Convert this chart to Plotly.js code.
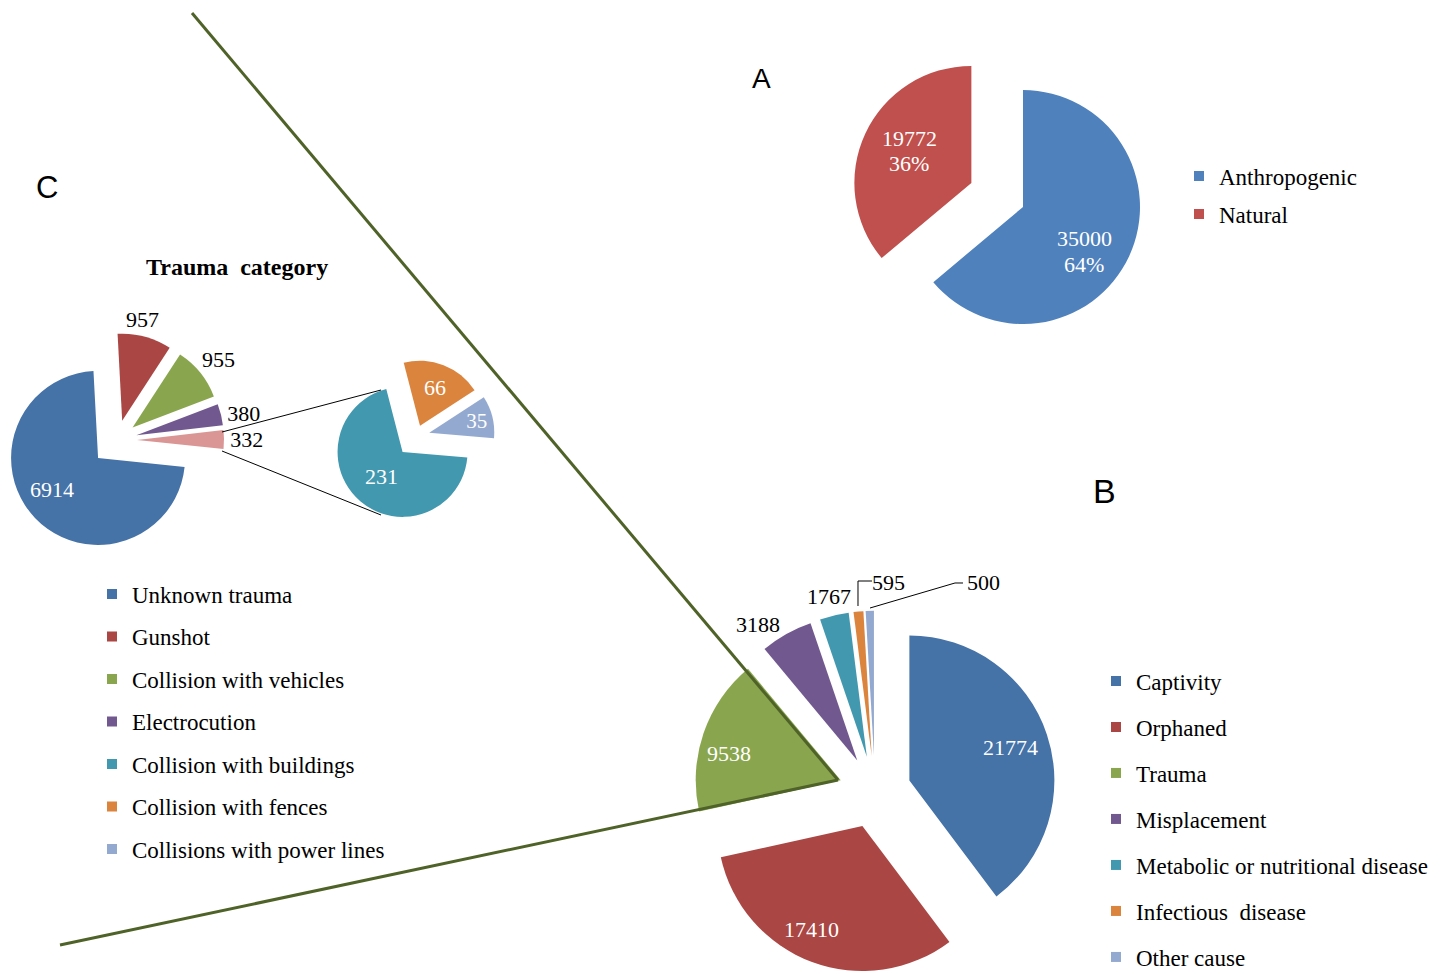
<!DOCTYPE html>
<html>
<head>
<meta charset="utf-8">
<script src="https://cdn.plot.ly/plotly-3.0.1.min.js"></script>
<style>
html, body { margin: 0; padding: 0; background: #ffffff; overflow: hidden; }
#chart { width: 1445px; height: 974px; }
</style>
</head>
<body>
<div id="chart"></div>
<script>
// ---------- DATA ----------
// A: origin of admissions
const originLabels = ['Anthropogenic', 'Natural'];
const originValues = [35000, 19772];
const originColors = ['#4F81BD', '#C0504D'];

// B: causes of admission
const causeLabels = ['Captivity', 'Orphaned', 'Trauma', 'Misplacement',
  'Metabolic or nutritional disease', 'Infectious  disease', 'Other cause'];
const causeValues = [21774, 17410, 9538, 3188, 1767, 595, 500];
const causeColors = ['#4572A7', '#AA4643', '#89A54E', '#71588F', '#4198AF', '#DB843D', '#93A9CF'];

// C: trauma category (primary pie; the last slice is the sum of the secondary pie)
const traumaLabels = ['Unknown trauma', 'Gunshot', 'Collision with vehicles', 'Electrocution', 'Other collisions'];
const traumaValues = [6914, 957, 955, 380, 332];
const traumaColors = ['#4572A7', '#AA4643', '#89A54E', '#71588F', '#DA9694'];

// C: secondary pie (breakdown of the 332 "other collisions")
const collisionLabels = ['Collision with buildings', 'Collision with fences', 'Collisions with power lines'];
const collisionValues = [231, 66, 35];
const collisionColors = ['#4198AF', '#DB843D', '#93A9CF'];

// ---------- LAYOUT HELPERS ----------
const W = 1445, H = 974;
const SERIF = 'Liberation Serif, Times New Roman, serif';
const SANS = 'Liberation Sans, Arial, sans-serif';

function dom(cx, cy, r, maxPull) {
  const h = r * (1 + maxPull);
  return { x: [(cx - h) / W, (cx + h) / W], y: [1 - (cy + h) / H, 1 - (cy - h) / H] };
}
function px(x) { return x / W; }
function py(y) { return 1 - y / H; }
function pathOf(pts) {
  return pts.map((p, i) => (i ? 'L' : 'M') + ' ' + px(p[0]).toFixed(5) + ' ' + py(p[1]).toFixed(5)).join(' ');
}

const insideFont = { family: SERIF, size: 22, color: '#ffffff' };
const outsideFont = { family: SERIF, size: 22, color: '#000000' };

const pullA = [0, 0.487];
const pullB = [0.25, 0.25, 0.25, 0.25, 0.25, 0.25, 0.25];
const pullC1 = [0.30, 0.23, 0.23, 0.23, 0.23];
const pullC2 = [0.32, 0.17, 0.21];

const traces = [
  {
    type: 'pie', labels: originLabels, values: originValues,
    marker: { colors: originColors }, sort: false, direction: 'clockwise', rotation: 0,
    pull: pullA, domain: dom(1023, 207, 117, Math.max(...pullA)),
    textinfo: 'none', textposition: 'none', showlegend: false
  },
  {
    type: 'pie', labels: causeLabels, values: causeValues,
    marker: { colors: causeColors }, sort: false, direction: 'clockwise', rotation: 0,
    pull: pullB, domain: dom(875, 792, 145, Math.max(...pullB)),
    textinfo: 'value', texttemplate: '%{value:d}',
    textposition: ['none', 'none', 'none', 'outside', 'none', 'none', 'none'],
    outsidetextfont: outsideFont, showlegend: false
  },
  {
    type: 'pie', labels: traumaLabels, values: traumaValues,
    marker: { colors: traumaColors }, sort: false, direction: 'clockwise', rotation: 96,
    pull: pullC1, domain: dom(117, 440, 87, Math.max(...pullC1)),
    textinfo: 'value', texttemplate: '%{value:d}',
    textposition: ['none', 'none', 'none', 'outside', 'outside'],
    outsidetextfont: outsideFont, showlegend: false
  },
  {
    type: 'pie', labels: collisionLabels, values: collisionValues,
    marker: { colors: collisionColors }, sort: false, direction: 'clockwise', rotation: 95,
    pull: pullC2, domain: dom(416, 436, 65, Math.max(...pullC2)),
    textinfo: 'value', texttemplate: '%{value:d}',
    textposition: 'inside', insidetextorientation: 'horizontal',
    insidetextfont: insideFont, showlegend: false
  }
];

// legend-only entries (one group each so that item spacing can be set)
function legendEntries(labels, colors, legendId) {
  return labels.map((l, i) => ({
    type: 'scatter', x: [null], y: [null], mode: 'markers', name: l,
    marker: { symbol: 'square', size: 10, color: colors[i], line: { width: 0 } },
    legend: legendId, legendgroup: legendId + '_' + i, showlegend: true, hoverinfo: 'skip'
  }));
}
const legendCLabels = traumaLabels.slice(0, 4).concat(collisionLabels);
const legendCColors = traumaColors.slice(0, 4).concat(collisionColors);

traces.push(...legendEntries(originLabels, originColors, 'legend'));
traces.push(...legendEntries(legendCLabels, legendCColors, 'legend2'));
traces.push(...legendEntries(causeLabels, causeColors, 'legend3'));

function legendBox(left, top, gap) {
  return {
    x: px(left), y: py(top), xanchor: 'left', yanchor: 'top',
    traceorder: 'grouped', tracegroupgap: gap, bgcolor: 'rgba(0,0,0,0)', borderwidth: 0,
    font: { family: SERIF, size: 23, color: '#000' }, indentation: -8, itemclick: false, itemdoubleclick: false
  };
}

// value labels placed as annotations (text taken from the data arrays)
function lab(text, x, y, color, size) {
  return { text: text, x: px(x), y: py(y), xref: 'paper', yref: 'paper', xanchor: 'center', yanchor: 'middle',
    showarrow: false, font: { family: SERIF, size: size || 22, color: color } };
}
const originTotal = originValues.reduce((a, b) => a + b, 0);
const pct = v => Math.round(v / originTotal * 100) + '%';

const lineColor = '#4F6228';
const layout = {
  width: W, height: H,
  margin: { l: 0, r: 0, t: 0, b: 0, pad: 0, autoexpand: false },
  paper_bgcolor: '#ffffff', plot_bgcolor: 'rgba(0,0,0,0)',
  xaxis: { visible: false, range: [0, 1], fixedrange: true },
  yaxis: { visible: false, range: [0, 1], fixedrange: true },
  font: { family: SERIF, size: 22, color: '#000' },
  legend: legendBox(1187, 154.5, 5.1),
  legend2: legendBox(100, 572.5, 9.6),
  legend3: legendBox(1104, 659.5, 13.1),
  shapes: [
    { type: 'line', xref: 'paper', yref: 'paper', x0: px(192), y0: py(13), x1: px(838), y1: py(780), line: { color: lineColor, width: 3 } },
    { type: 'line', xref: 'paper', yref: 'paper', x0: px(838), y0: py(780), x1: px(60), y1: py(945), line: { color: lineColor, width: 3 } },
    { type: 'line', xref: 'paper', yref: 'paper', x0: px(222), y0: py(432), x1: px(381), y1: py(390), line: { color: '#000', width: 1 } },
    { type: 'line', xref: 'paper', yref: 'paper', x0: px(222), y0: py(451), x1: px(381), y1: py(515), line: { color: '#000', width: 1 } },
    { type: 'path', xref: 'paper', yref: 'paper', path: pathOf([[872, 581], [858, 581], [858, 606]]), line: { color: '#000', width: 1 } },
    { type: 'path', xref: 'paper', yref: 'paper', path: pathOf([[963, 583], [955, 583], [870, 608]]), line: { color: '#000', width: 1 } }
  ],
  annotations: [
    { text: 'A', x: px(761), y: py(78), xref: 'paper', yref: 'paper', xanchor: 'center', yanchor: 'middle', showarrow: false, font: { family: SANS, size: 28, color: '#000' } },
    { text: 'B', x: px(1104), y: py(491), xref: 'paper', yref: 'paper', xanchor: 'center', yanchor: 'middle', showarrow: false, font: { family: SANS, size: 34, color: '#000' } },
    { text: 'C', x: px(47), y: py(188), xref: 'paper', yref: 'paper', xanchor: 'center', yanchor: 'middle', showarrow: false, font: { family: SANS, size: 31, color: '#000' } },
    { text: '<b>Trauma\u00A0 category</b>', x: px(237), y: py(267), xref: 'paper', yref: 'paper', xanchor: 'center', yanchor: 'middle', showarrow: false, font: { family: SERIF, size: 24, color: '#000' } },
    // A
    lab(String(originValues[1]), 909, 138, '#fff'),
    lab(pct(originValues[1]), 909, 164, '#fff'),
    lab(String(originValues[0]), 1084, 238, '#fff'),
    lab(pct(originValues[0]), 1084, 264, '#fff'),
    // B
    lab(String(causeValues[0]), 1010, 747, '#fff'),
    lab(String(causeValues[1]), 812, 929, '#fff'),
    lab(String(causeValues[2]), 729, 753, '#fff'),
    lab(String(causeValues[4]), 829, 596, '#000'),
    lab(String(causeValues[5]), 888, 582, '#000'),
    lab(String(causeValues[6]), 983, 582, '#000'),
    // C
    lab(String(traumaValues[0]), 52, 489, '#fff'),
    lab(String(traumaValues[1]), 142, 319, '#000'),
    lab(String(traumaValues[2]), 218, 359, '#000')
  ]
};

Plotly.newPlot('chart', traces, layout, { displayModeBar: false });
</script>
</body>
</html>
